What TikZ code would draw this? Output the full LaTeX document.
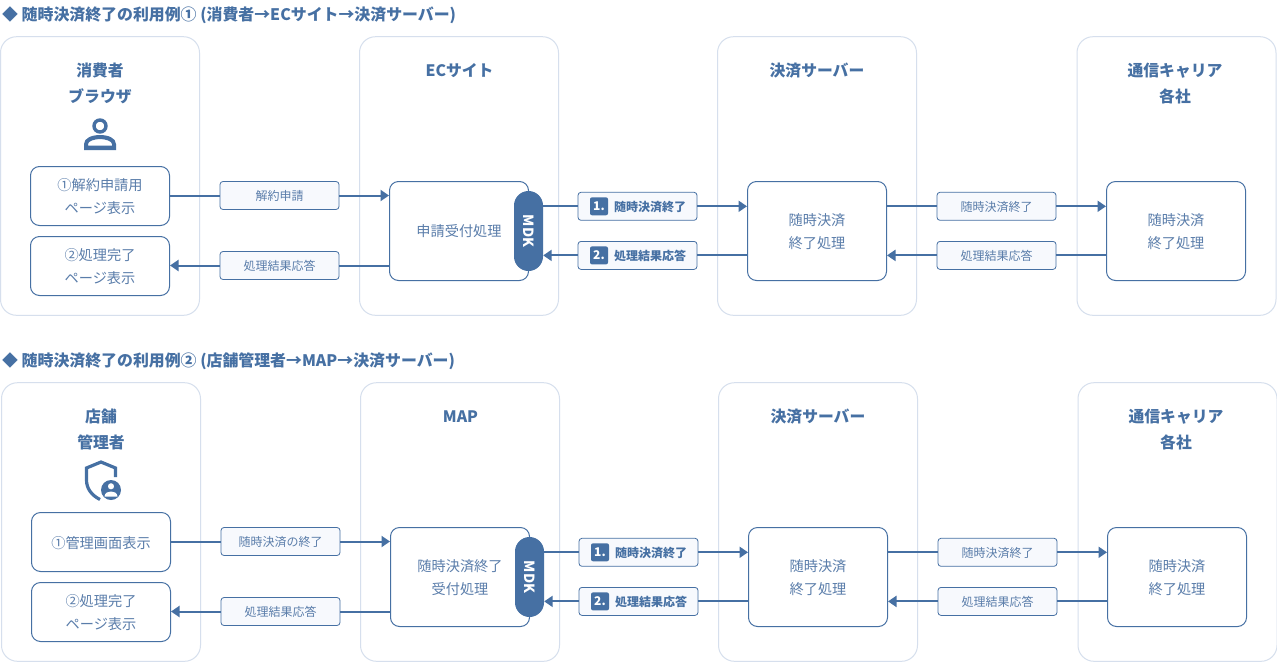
\documentclass[tikz,border=0pt]{standalone}
\usepackage{fontspec}
\setmainfont{Noto Sans CJK JP}
\usetikzlibrary{arrows.meta,calc}
\definecolor{mainblue}{HTML}{4670A3}
\definecolor{txtblue}{HTML}{5A7DAA}
\definecolor{panelline}{HTML}{D6DFED}
\definecolor{labfill}{HTML}{F7F9FD}
\tikzset{
 x=1pt,y=-1pt,
 panel/.style={draw=panelline,line width=1pt,rounded corners=16pt,fill=white,minimum width=199pt,minimum height=278.6pt,inner sep=0},
 proc/.style={draw=mainblue,line width=1pt,rounded corners=9pt,fill=white,minimum width=139pt,inner sep=0,align=center,text=txtblue,font=\fontsize{14.2}{23.5}\selectfont,text depth=-3.3pt},
 lab/.style={draw=mainblue,line width=.8pt,rounded corners=3pt,fill=labfill,minimum width=119pt,minimum height=28pt,inner sep=0,text=txtblue,align=center,font=\fontsize{12}{14}\selectfont,text depth=-1.6pt},
 labb/.style={lab,font=\fontsize{12}{14}\selectfont\bfseries,text=mainblue},
 badge/.style={fill=mainblue,rounded corners=2pt,minimum width=18pt,minimum height=18pt,inner sep=0,text=white,align=center,font=\fontsize{12}{14}\selectfont\bfseries,text depth=-1.6pt},
 head/.style={text=mainblue,align=center,inner sep=0,font=\fontsize{15.8}{26}\selectfont\bfseries},
 title/.style={text=mainblue,anchor=west,inner sep=0,font=\fontsize{15.9}{18}\selectfont\bfseries},
 mdk/.style={fill=mainblue,rounded corners=14.5pt,minimum width=29pt,minimum height=80pt,inner sep=0},
 conn/.style={draw=mainblue,line width=2pt},
 arr/.style={conn,-{Triangle[length=8.5pt,width=11pt]}},
}
% #1 prefix, #2 x shift, #3 y shift, #4 head 1, #5 head 2, #6 box1 text, #7 lab1, #8 centre text
\newcommand{\rowdiagram}[8]{%
 \begin{scope}[shift={(#2,#3)}]
 \node[panel] (#1p1) at (100,176) {};
 \node[panel] (#1p2) at (459,176) {};
 \node[panel] (#1p3) at (817,176) {};
 \node[panel] (#1p4) at (1176.5,176) {};
 \node[head] (#1h1) at (100,83) {#4};
 \node[head] (#1h2) at (459.5,71) {#5};
 \node[head] (#1h3) at (817,71) {決済サーバー};
 \node[head] (#1h4) at (1175,84) {通信キャリア\\各社};
 \node[proc,minimum height=59pt] (#1a1) at (100,196) {#6};
 \node[proc,minimum height=59pt] (#1a2) at (100,266) {②処理完了\\ページ表示};
 \node[proc,minimum height=99pt] (#1b) at (459,231) {#8};
 \node[mdk] (#1m) at (528.5,231) {};
 \node[text=white,rotate=-90,inner sep=0,font=\fontsize{14}{14}\selectfont\bfseries] (#1mt) at (528.5,231) {MDK};
 \node[proc,minimum height=99pt] (#1c) at (817,231) {随時決済\\終了処理};
 \node[proc,minimum height=99pt] (#1d) at (1176,231) {随時決済\\終了処理};
 \node[lab] (#1l1) at (279.5,195.5) {#7};
 \node[lab] (#1l2) at (279.5,265.5) {処理結果応答};
 \node[labb,text width=119pt,align=left] (#1l3) at (637.5,206.3) {\hspace*{36pt}随時決済終了};
 \node[labb,text width=119pt,align=left] (#1l4) at (637.5,255.4) {\hspace*{36pt}処理結果応答};
 \node[badge] (#1n1) at (599,206.3) {1.};
 \node[badge] (#1n2) at (599,255.4) {2.};
 \node[lab] (#1l5) at (996.5,206.3) {随時決済終了};
 \node[lab] (#1l6) at (996.5,255.4) {処理結果応答};
 \draw[conn] (#1a1.east |- #1l1.west) -- (#1l1.west);
 \draw[arr] (#1l1.east) -- (#1b.west |- #1l1.east);
 \draw[conn] (#1b.west |- #1l2.east) -- (#1l2.east);
 \draw[arr] (#1l2.west) -- (#1a2.east |- #1l2.west);
 \draw[conn] (#1m.east |- #1l3.west) -- (#1l3.west);
 \draw[arr] (#1l3.east) -- (#1c.west |- #1l3.east);
 \draw[conn] (#1c.west |- #1l4.east) -- (#1l4.east);
 \draw[arr] (#1l4.west) -- (#1m.east |- #1l4.west);
 \draw[conn] (#1c.east |- #1l5.west) -- (#1l5.west);
 \draw[arr] (#1l5.east) -- (#1d.west |- #1l5.east);
 \draw[conn] (#1d.west |- #1l6.east) -- (#1l6.east);
 \draw[arr] (#1l6.west) -- (#1c.east |- #1l6.west);
 \end{scope}%
}
\begin{document}
\begin{tikzpicture}
\useasboundingbox (0,0) rectangle (1277,662);
\fill[white] (0,0) rectangle (1277,662);
\node[title] (t1) at (2,15.2) {◆ 随時決済終了の利用例① (消費者→ECサイト→決済サーバー)};
\node[title] (t2) at (2,361.2) {◆ 随時決済終了の利用例② (店舗管理者→MAP→決済サーバー)};
\rowdiagram{u}{0}{0}{消費者\\ブラウザ}{ECサイト}{①解約申請用\\ページ表示}{解約申請}{申請受付処理}
\rowdiagram{v}{1}{346}{店舗\\管理者}{MAP}{①管理画面表示}{随時決済の終了}{随時決済終了\\受付処理}
% person icon
\draw[mainblue,line width=3.4pt] (100,126) circle (6);
\fill[mainblue,even odd rule] (84,150) -- (84,144) .. controls (84,138) and (92,135) .. (100,135) .. controls (108,135) and (116,138) .. (116,144) -- (116,150) -- cycle
 (88,145.7) -- (88,144) .. controls (88,141) and (95,139) .. (100,139) .. controls (105,139) and (112,141) .. (112,144) -- (112,145.7) -- cycle;
% shield icon
\draw[mainblue,line width=3.2pt] (115.5,477) -- (115.5,468) -- (101,462) -- (86.5,468) -- (86.5,480) .. controls (86.5,488) and (91,495) .. (100,499.5);
\fill[mainblue,even odd rule] (111,490) circle (10)
 (111,486.3) circle (3.2);
\fill[white] (104.5,496.5) .. controls (105,492.5) and (108,491.5) .. (111,491.5) .. controls (114,491.5) and (117,492.5) .. (117.5,496.5) -- cycle;
\end{tikzpicture}
\end{document}
